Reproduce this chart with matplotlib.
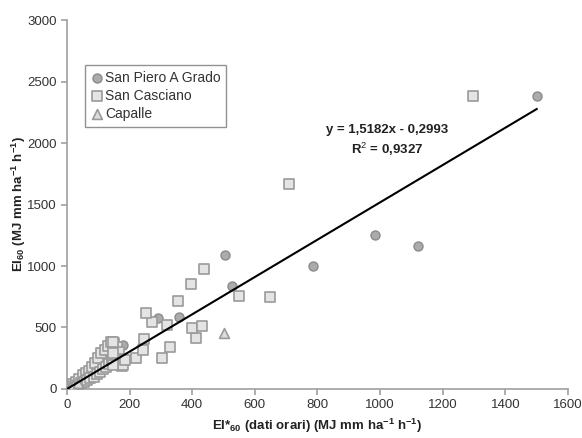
import numpy as np
from matplotlib import pyplot as plt

plt.rcParams['font.family'] = ['Liberation Sans', 'DejaVu Sans']
plt.rcParams['mathtext.fontset'] = 'custom'
plt.rcParams['mathtext.rm'] = 'Liberation Sans'
plt.rcParams['mathtext.bf'] = 'Liberation Sans:bold'

# San Piero A Grado (cerchi)
spg_x = [5, 15, 25, 40, 60, 80, 100, 110, 120, 130, 178, 243, 290, 359,
         505, 527, 785, 984, 1122, 1500]
spg_y = [15, 30, 50, 70, 100, 140, 180, 300, 330, 300, 358, 341, 575, 588,
         1090, 835, 1000, 1250, 1165, 2380]

# San Casciano (quadrati)
sc_x = [5, 10, 15, 20, 25, 30, 35, 40, 45, 50, 55, 60, 65, 70, 75, 80, 85,
        90, 95, 100, 105, 110, 115, 120, 125, 130, 135, 140, 145, 150, 155,
        160, 165, 170, 175, 148, 148, 180, 148, 185, 220, 247, 244, 305,
        329, 412, 400, 432, 321, 272, 252, 356, 395, 438, 550, 648, 710, 1295]
sc_y = [10, 25, 15, 40, 20, 60, 30, 80, 45, 110, 60, 130, 70, 150, 90, 180,
        100, 210, 120, 250, 140, 290, 160, 320, 180, 350, 200, 380, 230, 370,
        280, 340, 300, 240, 190, 385, 289, 195, 195, 236, 249, 404, 317, 249,
        344, 412, 498, 512, 520, 542, 620, 715, 850, 975, 760, 750, 1670, 2380]

# Capalle (triangoli)
cap_x = [10, 20, 35, 503]
cap_y = [15, 30, 45, 452]

# retta di regressione
slope = 1.5182
intercept = -0.2993
x_fit = np.array([0, 1500])

fig, ax = plt.subplots(figsize=(5.82, 4.38), dpi=100)
fig.subplots_adjust(left=0.115, right=0.976, top=0.954, bottom=0.112)

ax.scatter(spg_x, spg_y, marker='o', s=42, facecolor='#ababab', edgecolor='#8a8a8a',
           linewidth=1, label='San Piero A Grado', zorder=3)
ax.scatter(sc_x, sc_y, marker='s', s=50, facecolor='#e4e4e4', edgecolor='#9a9a9a',
           linewidth=1.2, label='San Casciano', zorder=3)
ax.scatter(cap_x, cap_y, marker='^', s=50, facecolor='#dcdcdc', edgecolor='#9a9a9a',
           linewidth=1.2, label='Capalle', zorder=3)
ax.plot(x_fit, slope * x_fit + intercept, color='black', linewidth=1.5, zorder=4)

ax.text(1022, 2110, 'y = 1,5182x - 0,2993', ha='center', va='center',
        fontsize=9.5, fontweight='bold', color='#222222')
ax.text(1022, 1945, 'R$^{2}$ = 0,9327', ha='center', va='center',
        fontsize=9.5, fontweight='bold', color='#222222')

ax.set_xlim(0, 1600)
ax.set_ylim(0, 3000)
ax.set_xticks(np.arange(0, 1601, 200))
ax.set_yticks(np.arange(0, 3001, 500))

for s in ['top', 'right']:
    ax.spines[s].set_visible(False)
for s in ['left', 'bottom']:
    ax.spines[s].set_color('#a0a0a0')
    ax.spines[s].set_linewidth(1.2)
ax.tick_params(direction='out', length=4, color='#a0a0a0', labelsize=9.5,
               labelcolor='#333333', width=1.2)

ax.set_xlabel(r'EI*$_{\mathbf{60}}$ (dati orari) (MJ mm ha$^{\mathbf{-1}}$ h$^{\mathbf{-1}}$)',
              fontsize=9.5, fontweight='bold', color='#222222', labelpad=4)
ax.set_ylabel(r'EI$_{\mathbf{60}}$ (MJ mm ha$^{\mathbf{-1}}$ h$^{\mathbf{-1}}$)',
              fontsize=9.5, fontweight='bold', color='#222222', labelpad=-1)

leg = ax.legend(loc='upper left', bbox_to_anchor=(0.036, 0.878), fontsize=10,
                frameon=True, fancybox=False, handletextpad=0.05, borderpad=0.4,
                labelspacing=0.3, handlelength=1.0, borderaxespad=0)
leg.get_frame().set_edgecolor('#777777')
leg.get_frame().set_linewidth(1)
for t in leg.get_texts():
    t.set_color('#333333')

plt.savefig('out.png', dpi=100)
